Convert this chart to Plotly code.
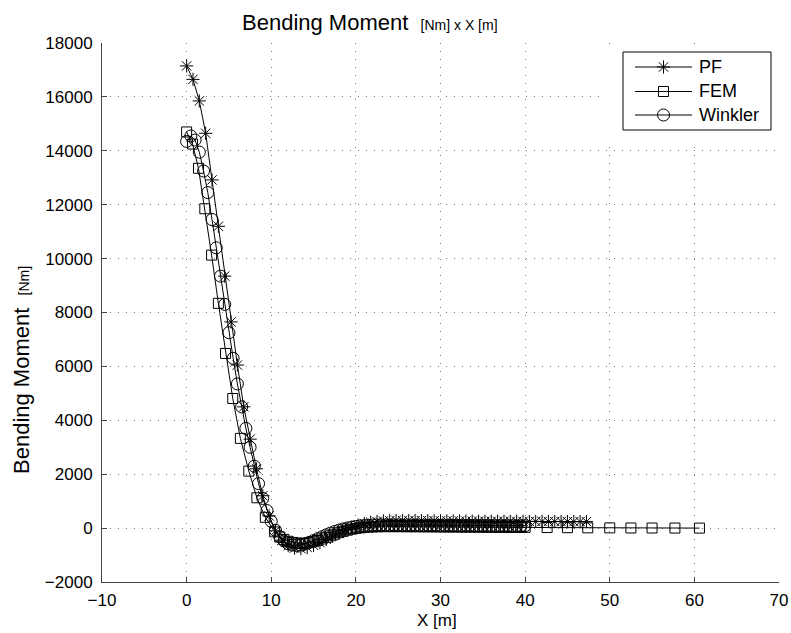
import numpy as np
import plotly.graph_objects as go

# ---- Bending moment along the pile, three solution methods ----

# PF solution: stations every 0.75 m
pf_x = np.round(np.arange(0, 47.26, 0.75), 2).tolist()
pf_m = [17150, 16650, 15850, 14650, 12920, 11200, 9350, 7650, 6050, 4500,
        3300, 2200, 1200, 450, -100, -450, -650, -740, -760, -720,
        -640, -540, -420, -300, -180, -70, 30, 110, 170, 215,
        245, 265, 275, 280, 282, 282, 280, 278, 275, 272,
        270, 268, 265, 263, 261, 259, 257, 255, 254, 253,
        252, 251, 250, 249, 248, 247, 246, 245, 244, 243,
        242, 241, 240, 240]

# FEM solution: mesh nodes
fem_x = [0, 0.7, 1.4, 2.15, 2.95, 3.75, 4.6, 5.45, 6.35, 7.35, 8.3, 9.3, 10.4] \
    + np.round(np.arange(11.0, 40.01, 0.5), 2).tolist() \
    + [42.6, 45.0, 47.4, 50.0, 52.5, 55.0, 57.7, 60.6]
fem_m = [14700, 14250, 13350, 11850, 10130, 8340, 6480, 4810, 3330, 2115,
         1125, 400, -140,
         -330, -420, -490, -530, -555, -565, -560, -540, -505, -460,
         -405, -345, -285, -225, -170, -120, -78, -42, -12, 10,
         26, 38, 46, 51, 54, 55, 55,
         55, 54, 54, 53, 53, 52, 52, 51, 50, 49,
         48, 47, 46, 45, 44, 43, 42, 41, 40, 39,
         38, 37, 36, 35, 34, 33, 32, 31, 30, 29,
         28, 27,
         20, 15, 10, 8, 5, 3, 2, 0]

# Winkler foundation solution: stations every 0.5 m
wk_x = np.round(np.arange(0, 40.01, 0.5), 2).tolist()
wk_m = [14350, 14550, 14400, 13950, 13250, 12450, 11450, 10400, 9350, 8300,
        7250, 6300, 5350, 4500, 3700, 3000, 2300, 1650, 1100, 650,
        250, -80, -320, -480, -580, -630, -645, -630, -590, -530,
        -460, -390, -320, -250, -185, -125, -75, -30, 5, 35,
        60, 80, 95, 105, 112, 116, 118, 118, 117,
        116, 115, 114, 113, 112, 111, 110, 109, 108, 107,
        106, 105, 104, 103, 102, 101, 100, 99, 98, 97,
        96, 95, 94, 93, 92, 91, 90, 90, 89, 89,
        88, 88]

assert len(pf_x) == len(pf_m)
assert len(fem_x) == len(fem_m)
assert len(wk_x) == len(wk_m)

x_ticks = [-10, 0, 10, 20, 30, 40, 50, 60, 70]
y_ticks = [-2000, 0, 2000, 4000, 6000, 8000, 10000, 12000, 14000, 16000, 18000]

series_names = ["PF", "FEM", "Winkler"]
series_symbols = ["asterisk-open", "square-open", "circle-open"]
series_sizes = [11, 10, 12]

FONT = "Liberation Sans, Arial, sans-serif"
INK = "black"

fig = go.Figure()
for name, xs, ys, sym, sz in zip(series_names, [pf_x, fem_x, wk_x], [pf_m, fem_m, wk_m],
                                 series_symbols, series_sizes):
    fig.add_trace(go.Scatter(
        x=xs, y=ys, name=name, mode="lines+markers", showlegend=False,
        line=dict(color=INK, width=1),
        marker=dict(symbol=sym, size=sz, color=INK, line=dict(color=INK, width=1)),
    ))

# Page geometry (pixels)
L, R, T, B = 102, 12, 43, 51
W, H = 791, 633
pw, ph = W - L - R, H - T - B

def px(xp):
    return (xp - L) / pw

def py(yp):
    return (H - B - yp) / ph

# ---- Legend panel: its own pixel-unit axes laid over the top-right corner ----
LG_X0, LG_X1 = 603, 779          # axes extent (px)
LG_Y0, LG_Y1 = 45, 140
box_l, box_r, box_t, box_b = 623, 771, 52, 130
key_x0, key_x1, label_x = 635, 692, 697
row_y = [67, 91.5, 115]

fig.add_trace(go.Scatter(
    x=[box_l, box_r, box_r, box_l, box_l], y=[box_t, box_t, box_b, box_b, box_t],
    xaxis="x2", yaxis="y2", mode="lines", fill="toself", fillcolor="white",
    line=dict(color=INK, width=1), showlegend=False, hoverinfo="skip",
))
for name, sym, sz, ry in zip(series_names, series_symbols, series_sizes, row_y):
    fig.add_trace(go.Scatter(
        x=[key_x0, key_x1], y=[ry, ry], xaxis="x2", yaxis="y2", mode="lines",
        line=dict(color=INK, width=1), showlegend=False, hoverinfo="skip",
    ))
    fig.add_trace(go.Scatter(
        x=[(key_x0 + key_x1) / 2], y=[ry], xaxis="x2", yaxis="y2", mode="markers",
        marker=dict(symbol=sym, size=sz, color=INK, line=dict(color=INK, width=1)),
        showlegend=False, hoverinfo="skip",
    ))

axis_common = dict(
    showline=True, linecolor="#444", linewidth=1,
    ticks="inside", ticklen=5, tickcolor="#444", tickwidth=1,
    showgrid=True, gridcolor="#777", gridwidth=1, griddash="1px,7px",
    zeroline=False, mirror=False, automargin=False,
    tickfont=dict(family=FONT, size=17, color=INK),
)

annotations = [
    dict(
        text="Bending Moment  <span style='font-size:14px'>[Nm] x X [m]</span>",
        xref="paper", yref="paper", x=px(240), y=py(22),
        xanchor="left", yanchor="middle", showarrow=False,
        font=dict(family=FONT, size=22, color=INK),
    ),
    dict(
        text="Bending Moment  <span style='font-size:14px'>[Nm]</span>",
        xref="paper", yref="paper", x=px(21), y=py(370),
        xanchor="center", yanchor="middle", showarrow=False, textangle=-90,
        font=dict(family=FONT, size=22, color=INK),
    ),
    dict(
        text="X [m]", xref="paper", yref="paper", x=px(437), y=py(620),
        xanchor="center", yanchor="middle", showarrow=False,
        font=dict(family=FONT, size=17, color=INK),
    ),
]
for name, ry in zip(series_names, row_y):
    annotations.append(dict(
        text=name, xref="x2", yref="y2", x=label_x, y=ry,
        xanchor="left", yanchor="middle", showarrow=False,
        font=dict(family=FONT, size=18, color=INK),
    ))

fig.update_layout(
    width=W, height=H,
    margin=dict(l=L, r=R, t=T, b=B, pad=0, autoexpand=False),
    paper_bgcolor="white", plot_bgcolor="white",
    font=dict(family=FONT, color=INK),
    showlegend=False,
    xaxis=dict(
        range=[-10, 70], tickmode="array", tickvals=x_ticks,
        ticktext=[str(v).replace("-", "\u2212") for v in x_ticks],
        ticklabelstandoff=3,
        **axis_common,
    ),
    yaxis=dict(
        range=[-2000, 18000], tickmode="array", tickvals=y_ticks,
        ticktext=[str(v).replace("-", "\u2212") for v in y_ticks],
        ticklabelstandoff=5,
        **axis_common,
    ),
    xaxis2=dict(domain=[px(LG_X0), px(LG_X1)], range=[LG_X0, LG_X1], anchor="y2",
                visible=False, fixedrange=True),
    yaxis2=dict(domain=[py(LG_Y1), py(LG_Y0)], range=[LG_Y1, LG_Y0], anchor="x2",
                visible=False, fixedrange=True),
    annotations=annotations,
)

fig.write_html("out.html")
